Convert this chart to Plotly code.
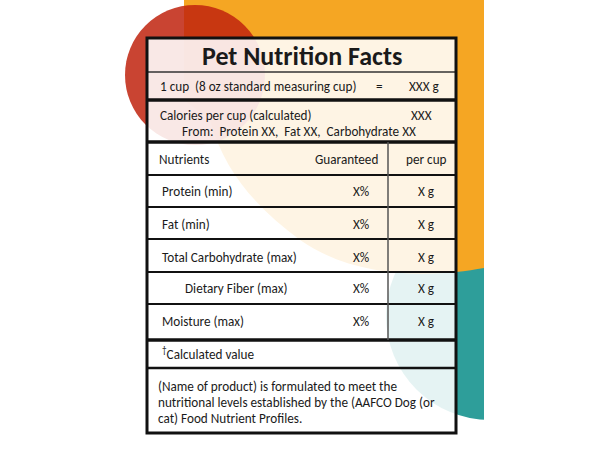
import plotly.graph_objects as go

# ---------------- content ----------------
title_text = "Pet Nutrition Facts"
serving_label = "1 cup  (8 oz standard measuring cup)"
serving_equals = "="
serving_value = "XXX g"
calories_label = "Calories per cup (calculated)"
calories_value = "XXX"
calories_from = "From:  Protein XX,  Fat XX,  Carbohydrate XX"
column_headers = ["Nutrients", "Guaranteed", "per cup"]
nutrients = ["Protein (min)", "Fat (min)", "Total Carbohydrate (max)",
             "Dietary Fiber (max)", "Moisture (max)"]
guaranteed = ["X%", "X%", "X%", "X%", "X%"]
per_cup = ["X g", "X g", "X g", "X g", "X g"]
footnote_mark = "†"
footnote_text = "Calculated value"
statement_lines = ["(Name of product) is formulated to meet the",
                   "nutritional levels established by the (AAFCO Dog (or",
                   "cat) Food Nutrient Profiles."]

# ---------------- layout geometry ----------------
FONT = "Carlito, Lato, 'Open Sans', sans-serif"
TXT = "#1a1a1a"
FS = 13.2
L, R, T, B = 147, 456, 38, 433
row_edges = [175, 207, 239, 272, 304, 340]
row_text_y = [191, 224, 257, 288, 321]
row_indent = [0, 0, 0, 23, 0]


def nb(s):
    return s.replace(" ", "\u00a0")


fig = go.Figure()
shapes = []

# background decoration
shapes.append(dict(type="circle", xref="x", yref="y", x0=386, x1=594, y0=212, y1=420,
                   fillcolor="#2E9E9A", line_width=0, layer="below"))
shapes.append(dict(type="path", xref="x", yref="y",
                   path="M 184 0 L 484 0 L 484 268 C 440 276, 360 282, 300 240 "
                        "C 260 210, 225 175, 210 120 L 184 100 Z",
                   fillcolor="#F5A623", line_width=0, layer="below"))
shapes.append(dict(type="rect", xref="x", yref="y", x0=484, x1=600, y0=0, y1=460,
                   fillcolor="white", line_width=0, layer="below"))
shapes.append(dict(type="circle", xref="x", yref="y", x0=125, x1=265, y0=5, y1=145,
                   fillcolor="rgb(191,35,14)", opacity=0.85, line_width=0, layer="below"))
# table body (translucent)
shapes.append(dict(type="rect", xref="x", yref="y", x0=L, x1=R, y0=T, y1=B,
                   fillcolor="rgba(255,255,255,0.88)", line_width=0, layer="below"))


def hline(y, w, color="#111"):
    shapes.append(dict(type="line", xref="x", yref="y", x0=L, x1=R, y0=y, y1=y,
                       line=dict(color=color, width=w)))


hline(72, 1.5, "#333")
hline(100, 3.5)
hline(142, 3.5)
hline(175, 2)
for ye in row_edges[1:-1]:
    hline(ye, 2)
hline(340, 3.5)
hline(368, 2.5)
shapes.append(dict(type="line", xref="x", yref="y", x0=388, x1=388, y0=142, y1=340,
                   line=dict(color="#555", width=1.5)))
shapes.append(dict(type="rect", xref="x", yref="y", x0=L, x1=R, y0=T, y1=B,
                   line=dict(color="#111", width=3), fillcolor="rgba(0,0,0,0)"))

ann = []


def text(x, y, s, size=FS, anchor="left", bold=False):
    ann.append(dict(x=x, y=y, xref="x", yref="y", text=("<b>%s</b>" % nb(s)) if bold else nb(s),
                    showarrow=False, xanchor=anchor, yanchor="middle",
                    font=dict(family=FONT, size=size, color=TXT)))


text((L + R) / 2, 56, title_text, size=26, anchor="center", bold=True)
text(158, 86, serving_label)
text(379, 86, serving_equals, anchor="center")
text(407, 86, serving_value)
text(158, 115, calories_label)
text(421, 115, calories_value, anchor="center")
text(180, 131.5, calories_from)
text(157, 159, column_headers[0])
text(380, 159, column_headers[1], anchor="right")
text(426, 159, column_headers[2], anchor="center")
for i in range(len(nutrients)):
    text(160 + row_indent[i], row_text_y[i], nutrients[i])
    text(361, row_text_y[i], guaranteed[i], anchor="center")
    text(426, row_text_y[i], per_cup[i], anchor="center")
ann.append(dict(x=160, y=353, xref="x", yref="y",
                text="<sup>%s</sup>%s" % (footnote_mark, nb(footnote_text)),
                showarrow=False, xanchor="left", yanchor="middle",
                font=dict(family=FONT, size=FS, color=TXT)))
for j, line in enumerate(statement_lines):
    text(156, 386 + 16.2 * j, line)

fig.update_layout(
    width=600, height=460, margin=dict(l=0, r=0, t=0, b=0),
    paper_bgcolor="white", plot_bgcolor="white",
    xaxis=dict(range=[0, 600], visible=False, fixedrange=True),
    yaxis=dict(range=[460, 0], visible=False, fixedrange=True),
    shapes=shapes, annotations=ann, showlegend=False,
)
fig.write_html("out.html", config={"displayModeBar": False},
               post_script="document.body.style.margin='0';"
                           "document.body.style.overflow='hidden';")
